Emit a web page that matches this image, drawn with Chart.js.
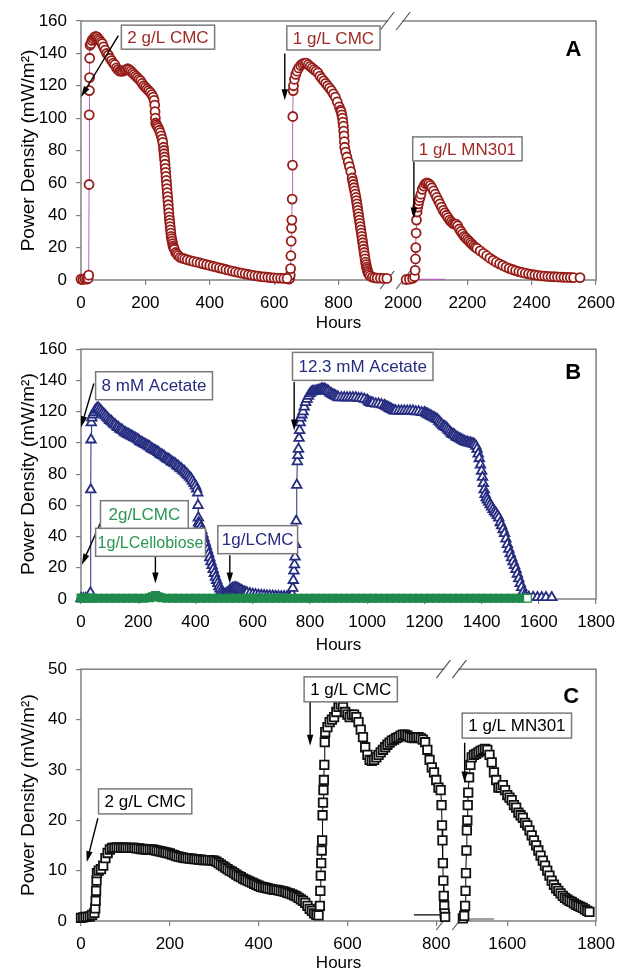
<!DOCTYPE html>
<html>
<head>
<meta charset="utf-8">
<script src="https://cdn.jsdelivr.net/npm/chart.js@4.4.0/dist/chart.umd.min.js"></script>
<style>
  html, body { margin: 0; padding: 0; background: #fff; }
  body { width: 623px; height: 969px; position: relative; overflow: hidden; }
  canvas { position: absolute; left: 0; }
</style>
</head>
<body>
<canvas id="chartA" width="623" height="332" style="top:0px"></canvas>
<canvas id="chartB" width="623" height="324" style="top:330px"></canvas>
<canvas id="chartC" width="623" height="322" style="top:650px"></canvas>
<script>
// ---- data: [hours, power density mW/m2] ----

// panel A
const aCmc2 = [[0,0.5],[6,0.3],[12,0.8],[18,0.5],[22,1],[24,3],[25,59],[25.5,102],[26,117],[26.5,125],[27,137],[28,145],[31,146],[34,148],[38,149],[42,150],[46,150.5],[50,150],[54,149],[58,148],[62,147],[66,146],[70,144],[75,142],[80,140],[85,139],[90,137],[95,135.5],[100,134],[105,133],[110,131],[115,130],[120,129],[125,129],[130,129],[135,129.5],[140,130],[145,130.5],[150,130],[155,129],[160,128],[165,127],[170,126],[175,125],[180,124],[185,123],[190,121.5],[195,120],[200,119],[205,118],[210,117],[215,116],[220,114.5],[224,113],[227,111],[229,108],[230,104],[231,100],[232,97],[234,96],[237,95],[240,94],[243,92.5],[246,91],[249,89],[252,87],[254,85],[256,82],[257,80],[258,78],[259,76],[260,74],[261,71.5],[262,69],[263,66.5],[264,64],[265,61.5],[266,59],[267,56.5],[268,54],[269,51.5],[270,49],[271,46.5],[272,44],[273,41.5],[274,39],[275,37],[276,35],[277,33],[278,31],[279,29],[280,27],[281.5,25.5],[283,24],[284.5,22.5],[286,21],[288,20],[290,19],[294,17],[298,16],[302,15],[308,14],[315,13.5],[322,13],[330,12.5],[340,12],[350,11.5],[360,11],[370,10.5],[380,10],[390,9.5],[400,9],[410,8.5],[420,8],[430,7.5],[440,7],[450,6.5],[460,6],[470,5.5],[480,5],[490,4.6],[500,4.2],[510,3.8],[520,3.4],[530,3],[540,2.7],[550,2.4],[560,2.1],[570,1.9],[580,1.7],[590,1.5],[600,1.3],[610,1.2],[620,1.1],[630,1],[640,1]];
const aCmc1 = [[645,0.5],[648,1],[650,3],[651,7],[652,15],[653,24],[654,32],[655,37],[656,50],[657,71],[658,101],[659,117],[660,120],[663,124],[667,127],[671,129],[676,131],[682,132.5],[688,133.5],[694,134],[700,134],[706,133],[712,132],[718,131],[724,130],[730,129],[736,128],[742,126],[748,124.5],[754,123],[760,121.5],[766,120],[772,118.5],[778,117],[784,115],[790,113],[796,110],[802,107],[806,105],[808,104],[810,102],[812,100],[813.5,97.5],[815,95],[816,92],[817,89],[818,85.5],[819,82],[822,79],[826,76],[830,73],[834,70],[838,67],[842,63],[844,61],[846,59],[848,57],[850,55],[852,53],[854,51],[855.5,49],[857,47],[858.5,45],[860,43],[861.5,41],[863,39],[864.5,37],[866,35],[867.5,33],[869,31],[870.5,29],[872,27],[873.5,25],[875,23],[876.5,21],[878,19],[879.5,17],[881,15],[882.5,13],[884,11],[885.5,9.5],[887,8],[888.5,6.8],[890,5.5],[892,4.5],[894,3.5],[898,2.5],[905,1.8],[912,1.4],[920,1.2],[930,1.1],[940,1],[950,1]];
const aMn301 = [[2010,0.3],[2020,0.5],[2030,1],[2036,2],[2038,6],[2039,13],[2040,20],[2041,29],[2042,37],[2044,42],[2046,45],[2048,47],[2050,49],[2053,51],[2056,53],[2060,56],[2065,58],[2070,59.5],[2075,60],[2080,59.5],[2085,58.5],[2090,57],[2095,55],[2100,53],[2105,51],[2110,49],[2115,47],[2120,45],[2125,43],[2130,41.5],[2135,40],[2140,38.5],[2145,37],[2150,36],[2155,35],[2160,34.5],[2165,34.5],[2170,33.5],[2175,31.5],[2180,30],[2185,28.5],[2190,27],[2195,26],[2200,25],[2205,24],[2210,23],[2215,22],[2220,21],[2225,20.2],[2230,19.5],[2240,18],[2250,16.5],[2260,15],[2270,13.5],[2280,12.2],[2290,11],[2300,10],[2310,9],[2320,8],[2330,7.2],[2340,6.5],[2350,5.8],[2360,5.2],[2370,4.7],[2380,4.2],[2390,3.8],[2400,3.4],[2410,3.1],[2420,2.8],[2430,2.6],[2440,2.4],[2450,2.2],[2460,2.1],[2470,2],[2480,1.9],[2490,1.8],[2500,1.7],[2510,1.6],[2520,1.6],[2530,1.5],[2550,1.5]];
const aBaseline = [[2020,0.3],[2130,0.3]];

// panel B
const bAcetate = [[0,0.3],[8,0.3],[16,0.4],[24,0.5],[30,1],[33,4],[34,70],[35,102],[36,113],[38,116],[42,118],[46,119.5],[50,121],[55,122],[60,122.5],[65,121.5],[70,120.5],[75,119.5],[80,118.5],[85,117.5],[90,116.5],[95,115.5],[100,114.5],[105,114],[110,113],[115,112],[120,111.5],[125,110.5],[130,110],[135,109],[140,108.5],[145,108],[150,107],[155,106.5],[160,106],[165,105.5],[170,105],[175,104.5],[180,104],[185,103.5],[190,103],[195,102.5],[200,102],[205,101],[210,100.5],[215,100],[220,99.5],[225,99],[230,98.5],[235,98],[240,97.5],[245,96.5],[250,96],[255,95.5],[260,95],[265,94.5],[270,94],[275,93],[280,92.5],[285,92],[290,91.5],[295,90.5],[300,90],[305,89.5],[310,89],[315,88],[320,87.5],[325,87],[330,86.5],[335,85.5],[340,85],[345,84],[350,83.5],[355,82.5],[360,82],[365,81],[370,80],[375,79],[380,78],[385,77],[390,75.5],[395,74],[400,72.5],[404,70.5],[408,68],[409,60],[410,52],[411,49],[414,48],[418,46],[422,44],[426,41.5],[430,39],[434,36.5],[438,34],[442,31.5],[446,29],[450,26.5],[454,24],[458,21.5],[462,19],[466,16.5],[470,14],[474,12],[478,10],[482,8],[486,6.5],[490,5],[494,4],[498,3.2],[502,3],[506,3.2],[510,3.8],[515,4.5],[520,5.5],[525,6.3],[530,6.8],[535,7.2],[540,7.3],[545,7],[550,6.5],[555,6],[560,5.5],[565,5],[570,4.5],[575,4.2],[580,4],[590,3.5],[600,3],[610,2.8],[620,2.5],[630,2.4],[640,2.2],[650,2.1],[660,2],[670,1.9],[680,1.8],[690,1.7],[700,1.6],[710,1.6],[720,1.5],[730,1.5],[736,2],[738,3],[740,7],[742,12],[744,18],[746,22],[748,27],[750,35],[752,50],[754,73],[756,88],[758,92],[760,96],[762,103],[764,108],[766,113],[768,116],[772,118],[776,120],[780,123],[785,126],[790,128],[795,130],[800,131.5],[805,132.5],[810,133],[815,133],[820,133],[825,133.5],[830,133.5],[835,134],[840,134.5],[845,134.5],[850,134.5],[855,134],[860,133.5],[865,133],[870,132],[875,131.5],[880,131],[885,130.5],[890,130],[895,129.5],[900,129],[910,129],[920,129],[930,129],[940,129],[950,129],[960,129],[970,128.5],[980,128.5],[990,128],[1000,127.5],[1005,126.5],[1010,126],[1015,125.5],[1020,125.5],[1030,125],[1040,125],[1050,124.5],[1060,124],[1065,123.5],[1070,123],[1075,122.5],[1080,122],[1085,121.5],[1090,121],[1095,120.5],[1100,120.5],[1110,120.5],[1120,120.5],[1130,120.5],[1140,120.5],[1150,120.5],[1160,120.5],[1170,120],[1180,120],[1190,119.5],[1200,119.5],[1205,119],[1210,118.5],[1215,118],[1220,117.5],[1225,117],[1230,116.5],[1235,116],[1240,115.5],[1245,115],[1250,114],[1255,113],[1260,112],[1265,111],[1270,110.5],[1275,110],[1280,109],[1285,108],[1290,107],[1295,106],[1300,105.5],[1305,105],[1310,104],[1315,103.5],[1320,103],[1325,102.5],[1330,102],[1335,101.5],[1340,101],[1345,100.5],[1350,100.5],[1355,100],[1360,100],[1365,99.5],[1370,99.5],[1375,99],[1380,98],[1384,96],[1388,93],[1392,90],[1396,86],[1400,82],[1403,78],[1406,74],[1409,70],[1412,67],[1416,65],[1420,63.5],[1425,62],[1430,60.5],[1435,59],[1440,57.5],[1445,56],[1450,55],[1455,53.5],[1460,52],[1465,49],[1470,47],[1475,44.5],[1480,42],[1485,38.5],[1490,35],[1495,32],[1500,29],[1505,26.5],[1510,24],[1515,21.5],[1520,19],[1525,16],[1530,13],[1535,10],[1540,7.5],[1545,4.5],[1550,2.5],[1555,1.5],[1565,1.2],[1580,1.1],[1595,1],[1610,1],[1625,1],[1645,1]];
const bCellulose = [[0,0.6],[10,0.6],[20,0.6],[30,0.6],[40,0.5],[60,0.5],[80,0.5],[100,0.5],[120,0.5],[140,0.5],[160,0.5],[180,0.5],[200,0.5],[220,0.5],[240,0.8],[250,1.5],[260,2.2],[270,1.5],[280,0.8],[300,0.5],[320,0.5],[340,0.5],[360,0.5],[380,0.5],[400,0.5],[420,0.5],[440,0.5],[460,0.5],[480,0.5],[500,0.5],[520,0.5],[540,0.5],[560,0.5],[580,0.5],[600,0.5],[620,0.5],[640,0.5],[660,0.5],[680,0.5],[700,0.5],[720,0.5],[740,0.5],[760,0.5],[780,0.5],[800,0.5],[820,0.5],[840,0.5],[860,0.5],[880,0.5],[900,0.5],[920,0.5],[940,0.5],[960,0.5],[980,0.5],[1000,0.5],[1020,0.5],[1040,0.5],[1060,0.5],[1080,0.5],[1100,0.5],[1120,0.5],[1140,0.5],[1160,0.5],[1180,0.5],[1200,0.5],[1220,0.5],[1240,0.5],[1260,0.5],[1280,0.5],[1300,0.5],[1320,0.5],[1340,0.5],[1360,0.5],[1380,0.5],[1400,0.5],[1420,0.5],[1440,0.5],[1460,0.5],[1480,0.5],[1500,0.5],[1520,0.5],[1540,0.5],[1560,0.5]];

// panel C
const cCmc = [[0,0.6],[5,0.7],[10,0.8],[15,0.8],[20,0.9],[25,1.2],[30,1.6],[32,2.5],[33,4],[34,6],[35,8],[36,9.5],[40,10],[45,10.3],[50,11],[55,12.5],[60,13.5],[65,14.2],[70,14.5],[75,14.5],[80,14.6],[85,14.5],[90,14.5],[95,14.6],[100,14.5],[105,14.5],[110,14.5],[115,14.5],[120,14.5],[125,14.4],[130,14.4],[135,14.3],[140,14.3],[145,14.2],[150,14.2],[155,14.2],[160,14.2],[165,14.1],[170,14],[175,13.9],[180,13.8],[185,13.7],[190,13.6],[195,13.5],[200,13.4],[205,13.2],[210,13.1],[215,12.9],[220,12.8],[225,12.7],[230,12.6],[235,12.5],[240,12.5],[245,12.4],[250,12.4],[255,12.3],[260,12.3],[265,12.2],[270,12.2],[275,12.1],[280,12.1],[285,12.1],[290,12.1],[295,12],[300,12],[305,11.8],[310,11.5],[315,11.2],[320,10.9],[325,10.6],[330,10.3],[335,10],[340,9.8],[345,9.5],[350,9.2],[355,8.9],[360,8.7],[365,8.4],[370,8.2],[375,8],[380,7.8],[385,7.6],[390,7.4],[395,7.2],[400,7],[405,6.8],[410,6.7],[415,6.6],[420,6.5],[425,6.4],[430,6.3],[435,6.2],[440,6.2],[445,6.1],[450,6],[455,5.9],[460,5.8],[465,5.6],[470,5.5],[475,5.3],[480,5.1],[485,4.9],[490,4.6],[495,4.3],[500,4],[505,3.6],[510,3],[515,2.4],[520,2],[525,1.5],[530,1.2],[535,1.1],[538,3],[539,6],[540,9],[541,11.5],[542,14],[543,16],[544,21],[545,23.5],[546,26],[547,28],[548,31],[549,35.5],[550,37.5],[555,38.5],[560,39.5],[565,40],[570,40.5],[575,41.5],[580,42.5],[585,43],[590,42.5],[595,41.5],[600,41],[605,40.5],[610,41],[615,41],[620,40.5],[625,39.5],[630,38],[635,36.5],[640,34.5],[645,33],[650,32],[655,31.8],[660,32],[665,32.5],[670,33],[675,33.5],[680,34],[685,34.5],[690,35],[695,35.4],[700,35.8],[705,36],[710,36.3],[715,36.5],[720,36.8],[725,37],[730,37],[735,36.8],[740,36.5],[745,36.4],[750,36.3],[755,36.4],[760,36.5],[765,36.3],[770,36],[775,35.5],[780,34],[785,32],[790,30.5],[795,29.5],[800,28],[805,26.5],[810,26],[812,23],[813,19],[814,16],[815,11.5],[816,8],[817,5],[818,3],[819,1.5],[820,0.8]];
const cMn301 = [[1500,0.5],[1503,1],[1505,3],[1506,6],[1507,9.5],[1508,14],[1509,18],[1510,20],[1511,23],[1512,25.5],[1514,28.5],[1517,31],[1520,32.5],[1525,33],[1530,33.2],[1535,33.5],[1540,33.8],[1545,34],[1550,34.2],[1555,34],[1560,33],[1565,31.5],[1570,29.5],[1575,28],[1580,26.5],[1585,26.5],[1590,27],[1595,26],[1600,25],[1605,24.5],[1610,24],[1615,23],[1620,22.5],[1625,21.5],[1630,21],[1635,20.5],[1640,19.5],[1645,19],[1650,18],[1655,17],[1660,16],[1665,15],[1670,14],[1675,13],[1680,12],[1685,11],[1690,10],[1695,9],[1700,8],[1705,7.2],[1710,6.5],[1715,6],[1720,5.5],[1725,5],[1730,4.6],[1735,4.3],[1740,4],[1745,3.8],[1750,3.5],[1755,3.2],[1760,3],[1765,2.8],[1770,2.6],[1775,2.3],[1780,2],[1785,1.8]];
const cBase1 = [[750,1.2],[812,1.2]];
const cBase2 = [[1500,0.4],[1570,0.4]];

// tick labels (hours)
const xTicksA = [0, 200, 400, 600, 800, 2000, 2200, 2400, 2600];
const xTicksC = [0, 200, 400, 600, 800, 1600, 1800];

// broken axes: hours after the gap are slid left
const mapA = h => (h >= 1500 ? h - 1000 : h);
const mapB = h => h;
const mapC = h => (h >= 1200 ? h - 640 : h);

Chart.defaults.font.family = '"Liberation Sans", Arial, sans-serif';
Chart.defaults.color = '#000';

const pts = (arr, map) => arr.map(([h, v]) => ({ x: map(h), y: v }));

function arrow(ctx, x1, y1, x2, y2) {
  const a = Math.atan2(y2 - y1, x2 - x1);
  const len = 11, half = 3.2;
  ctx.beginPath();
  ctx.moveTo(x1, y1);
  ctx.lineTo(x2 - Math.cos(a) * len * 0.7, y2 - Math.sin(a) * len * 0.7);
  ctx.stroke();
  ctx.beginPath();
  ctx.moveTo(x2, y2);
  ctx.lineTo(x2 - len * Math.cos(a) + half * Math.sin(a), y2 - len * Math.sin(a) - half * Math.cos(a));
  ctx.lineTo(x2 - len * Math.cos(a) - half * Math.sin(a), y2 - len * Math.sin(a) + half * Math.cos(a));
  ctx.closePath();
  ctx.fill();
}

// frame, axis break marks, text boxes and arrows
function decorations(map, breakAt, labels, arrows, boxH) {
  return {
    id: 'decor',
    beforeDatasetsDraw(chart) {
      const { ctx, chartArea: a } = chart;
      ctx.save();
      ctx.strokeStyle = '#808080';
      ctx.lineWidth = 1.5;
      ctx.strokeRect(a.left, a.top, a.right - a.left, a.bottom - a.top);
      if (breakAt != null) {
        const xb = chart.scales.x.getPixelForValue(map(breakAt));
        [a.top, a.bottom].forEach(y => {
          ctx.fillStyle = '#fff';
          ctx.fillRect(xb - 7, y - 2, 14, 4);
          ctx.strokeStyle = '#555';
          ctx.lineWidth = 1.2;
          [-8, 8].forEach(dx => {
            ctx.beginPath();
            ctx.moveTo(xb + dx - 7, y + 9);
            ctx.lineTo(xb + dx + 7, y - 9);
            ctx.stroke();
          });
        });
      }
      ctx.restore();
    },
    afterDatasetsDraw(chart) {
      const { ctx } = chart;
      const xs = chart.scales.x, ys = chart.scales.y;
      ctx.save();
      ctx.strokeStyle = '#000';
      ctx.fillStyle = '#000';
      ctx.lineWidth = 1.4;
      arrows.forEach(([h1, v1, h2, v2]) => {
        arrow(ctx, xs.getPixelForValue(map(h1)), ys.getPixelForValue(v1),
                   xs.getPixelForValue(map(h2)), ys.getPixelForValue(v2));
      });
      labels.forEach(l => {
        const x = xs.getPixelForValue(map(l.h));
        const y = ys.getPixelForValue(l.v);
        ctx.font = (l.bold ? 'bold ' : '') + (l.size || 17) + 'px "Liberation Sans", Arial, sans-serif';
        ctx.textBaseline = 'middle';
        if (l.bold) {
          ctx.textAlign = 'center';
          ctx.fillStyle = '#000';
          ctx.fillText(l.text, x, y);
          return;
        }
        ctx.textAlign = 'left';
        const w = ctx.measureText(l.text).width;
        const pad = l.pad == null ? 6 : l.pad;
        ctx.fillStyle = '#fff';
        ctx.fillRect(x - pad, y - boxH / 2, w + 2 * pad, boxH);
        ctx.strokeStyle = '#7a7a7a';
        ctx.lineWidth = 1.5;
        ctx.strokeRect(x - pad, y - boxH / 2, w + 2 * pad, boxH);
        ctx.fillStyle = l.color;
        ctx.fillText(l.text, x, y + 1);
      });
      ctx.restore();
    }
  };
}

function makeChart(id, cfg) {
  const xScale = {
    type: 'linear',
    min: cfg.xMin, max: cfg.xMax,
    border: { display: false },
    grid: { drawOnChartArea: false, drawTicks: true, tickLength: 5, color: '#808080', lineWidth: 1.2 },
    ticks: { font: { size: 17 }, padding: 8, autoSkip: false, maxRotation: 0 },
    title: { display: true, text: 'Hours', font: { size: 17, lineHeight: 1 }, padding: { top: 0, bottom: 0 } },
    afterFit: s => { s.height = cfg.xHeight; }
  };
  if (cfg.xTicks) {
    xScale.afterBuildTicks = s => { s.ticks = cfg.xTicks.map(h => ({ value: cfg.map(h) })); };
    xScale.ticks.callback = (v, i) => String(cfg.xTicks[i]);
  } else {
    xScale.ticks.stepSize = cfg.xStep;
    xScale.ticks.callback = v => String(v);
  }
  return new Chart(document.getElementById(id), {
    type: 'scatter',
    data: { datasets: cfg.datasets },
    options: {
      responsive: false,
      animation: false,
      layout: { padding: { top: cfg.padTop, right: 19, left: 0, bottom: 0 } },
      plugins: { legend: { display: false }, tooltip: { enabled: false } },
      scales: {
        x: xScale,
        y: {
          min: 0, max: cfg.yMax,
          border: { display: false },
          grid: { drawOnChartArea: false, drawTicks: true, tickLength: 5, color: '#808080', lineWidth: 1.2 },
          ticks: { stepSize: cfg.yStep, font: { size: 17 }, padding: 9 },
          title: { display: true, text: 'Power Density (mW/m²)', font: { size: 19, lineHeight: 1 }, padding: { top: 19, bottom: 0 } },
          afterFit: s => { s.width = 81; }
        }
      }
    },
    plugins: [decorations(cfg.map, cfg.breakAt, cfg.labels, cfg.arrows, cfg.boxH)]
  });
}

// ---- panel A ----
const redEdge = '#961C18', purple = '#B065BD';
const circleSet = (arr) => ({
  data: pts(arr, mapA), showLine: true, borderColor: purple, borderWidth: 1,
  pointStyle: 'circle', pointRadius: 4.5, pointBorderWidth: 1.8,
  pointBorderColor: redEdge, pointBackgroundColor: '#fff', clip: false
});
makeChart('chartA', {
  map: mapA, xMin: 0, xMax: 1600, xTicks: xTicksA, yMax: 160, yStep: 20,
  padTop: 21, xHeight: 52, breakAt: 976, boxH: 24,
  datasets: [
    circleSet(aCmc2), circleSet(aCmc1), circleSet(aMn301),
    { data: pts(aBaseline, mapA), showLine: true, borderColor: purple, borderWidth: 1.5, pointRadius: 0 }
  ],
  labels: [
    { h: 144, v: 150, text: '2 g/L CMC', color: '#9E2A24' },
    { h: 658, v: 149.5, text: '1 g/L CMC', color: '#9E2A24' },
    { h: 2049, v: 81, text: '1 g/L MN301', color: '#9E2A24' },
    { h: 2530, v: 142, text: 'A', bold: true, size: 22 }
  ],
  arrows: [[116, 151, 0, 113], [633, 140, 633, 111], [2034, 73, 2034, 38]]
});

// ---- panel B ----
const navy = '#262D80', green = '#1F8A4C';
makeChart('chartB', {
  map: mapB, xMin: 0, xMax: 1800, xStep: 200, yMax: 160, yStep: 20,
  padTop: 9, xHeight: 55, breakAt: null, boxH: 28,
  datasets: [
    { data: pts(bCellulose, mapB), showLine: true, borderColor: green, borderWidth: 1,
      pointStyle: 'rect', pointRadius: 5.5, pointBorderWidth: 1.2, pointBorderColor: green,
      pointBackgroundColor: ctx => (ctx.dataIndex === bCellulose.length - 1 ? '#fff' : green), clip: false },
    { data: pts(bAcetate, mapB), showLine: true, borderColor: navy, borderWidth: 1,
      pointStyle: 'triangle', pointRadius: 5.5, pointBorderWidth: 1.8, pointBorderColor: navy,
      pointBackgroundColor: '#fff', clip: false }
  ],
  labels: [
    { h: 72, v: 136.6, text: '8 mM Acetate', color: navy },
    { h: 760, v: 149, text: '12.3 mM Acetate', color: navy },
    { h: 96, v: 54, text: '2g/LCMC', color: '#2A9650', pad: 8 },
    { h: 58, v: 36.3, text: '1g/LCellobiose', color: '#2A9650', size: 16, pad: 2 },
    { h: 492, v: 38, text: '1g/LCMC', color: navy, pad: 4 },
    { h: 1720, v: 145, text: 'B', bold: true, size: 22 }
  ],
  arrows: [[45, 138, 0, 110], [745, 139, 745, 108], [76, 52, 3, 22], [260, 28, 260, 10], [520, 28, 520, 10]]
});

// ---- panel C ----
const squareSet = (arr) => ({
  data: pts(arr, mapC), showLine: true, borderColor: '#000', borderWidth: 1,
  pointStyle: 'rect', pointRadius: 6, pointBorderWidth: 1.8,
  pointBorderColor: '#111', pointBackgroundColor: '#fff', clip: false
});
makeChart('chartC', {
  map: mapC, xMin: 0, xMax: 1160, xTicks: xTicksC, yMax: 50, yStep: 10,
  padTop: 11, xHeight: 51, breakAt: 834, boxH: 25,
  datasets: [
    squareSet(cCmc), squareSet(cMn301),
    { data: pts(cBase1, mapC), showLine: true, borderColor: '#000', borderWidth: 1.2, pointRadius: 0 },
    { data: pts(cBase2, mapC), showLine: true, borderColor: '#444', borderWidth: 1.2, pointRadius: 0 }
  ],
  labels: [
    { h: 53, v: 23.75, text: '2 g/L CMC', color: '#000' },
    { h: 516, v: 46, text: '1 g/L CMC', color: '#000' },
    { h: 1512, v: 38.8, text: '1 g/L MN301', color: '#000' },
    { h: 1744, v: 44.4, text: 'C', bold: true, size: 22 }
  ],
  arrows: [[38, 20.4, 13, 11.7], [516, 43.5, 516, 34.8], [1504, 35.4, 1504, 27.5]]
});
</script>
</body>
</html>
